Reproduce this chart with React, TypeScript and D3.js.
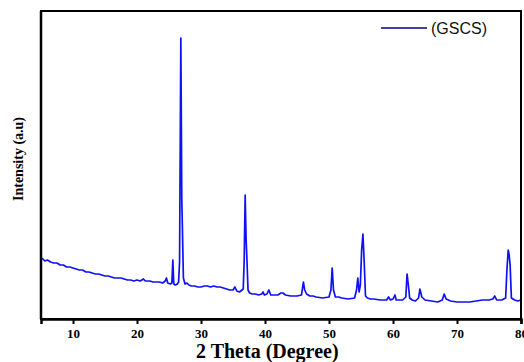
import React, { useEffect, useRef } from 'react';
import * as d3 from 'd3';

// XRD pattern: [2 theta, intensity (a.u.)]
const xrdPattern: [number, number][] = [
  [5.0, 610], [5.3, 600], [5.6, 580], [6.0, 590], [6.5, 570], [7.0, 560], [7.5, 560],
  [8.0, 540], [8.5, 540], [9.0, 520], [9.5, 520], [10.0, 510], [10.5, 500], [11.0, 490],
  [11.5, 490], [12.0, 470], [12.5, 470], [13.0, 460], [13.5, 450], [14.0, 450], [14.5, 440],
  [15.0, 430], [15.5, 430], [16.0, 420], [16.5, 410], [17.0, 410], [17.5, 410], [18.0, 400],
  [18.5, 390], [19.0, 390], [19.5, 380], [20.0, 390], [20.5, 380], [21.0, 400], [21.3, 380],
  [22.0, 380], [22.5, 370], [23.0, 370], [23.5, 370], [24.0, 360], [24.4, 380], [24.6, 410],
  [24.8, 360], [25.2, 350], [25.45, 360], [25.6, 590], [25.75, 350], [26.0, 340], [26.3, 350],
  [26.5, 370], [26.65, 570], [26.85, 2810], [27.0, 1190], [27.1, 890], [27.25, 410], [27.5, 350],
  [27.8, 360], [28.1, 340], [28.5, 330], [29.0, 330], [29.5, 320], [30.0, 320], [30.5, 330],
  [31.0, 330], [31.5, 320], [32.0, 330], [32.5, 320], [33.0, 320], [33.5, 310], [34.0, 300],
  [34.5, 290], [35.0, 290], [35.3, 320], [35.6, 280], [36.0, 270], [36.4, 290], [36.6, 300],
  [36.75, 590], [36.9, 1240], [37.05, 790], [37.15, 640], [37.35, 290], [37.6, 260], [38.0, 250],
  [38.5, 250], [39.0, 240], [39.5, 250], [39.7, 270], [39.9, 240], [40.3, 250], [40.6, 290],
  [40.9, 240], [41.5, 240], [42.0, 240], [42.5, 260], [42.8, 260], [43.2, 240], [44.0, 230],
  [45.0, 230], [45.7, 240], [46.0, 370], [46.2, 290], [46.5, 250], [47.0, 230], [47.5, 230],
  [48.0, 220], [49.0, 210], [50.0, 220], [50.3, 290], [50.5, 510], [50.7, 290], [51.0, 220],
  [51.5, 220], [52.0, 210], [53.0, 200], [54.0, 210], [54.3, 290], [54.5, 410], [54.7, 270],
  [54.9, 340], [55.1, 690], [55.3, 850], [55.5, 570], [55.7, 230], [56.0, 210], [56.5, 200],
  [57.0, 200], [58.0, 190], [59.0, 190], [59.3, 220], [59.6, 190], [60.0, 200], [60.3, 240],
  [60.5, 190], [61.0, 190], [61.5, 190], [62.0, 220], [62.2, 450], [62.4, 340], [62.6, 210],
  [63.0, 190], [63.5, 180], [64.0, 210], [64.2, 300], [64.5, 220], [65.0, 190], [66.0, 180],
  [67.0, 170], [67.7, 190], [68.0, 250], [68.3, 200], [69.0, 180], [70.0, 170], [71.0, 170],
  [72.0, 170], [73.0, 180], [74.0, 190], [75.0, 190], [75.6, 200], [75.9, 230], [76.2, 190],
  [77.0, 190], [77.6, 210], [77.8, 490], [78.0, 690], [78.15, 640], [78.3, 540], [78.5, 210],
  [79.0, 190], [79.5, 180], [80.0, 190],
];

const majorTicks = [10, 20, 30, 40, 50, 60, 70, 80];
const minorTicks = [5, 15, 25, 35, 45, 55, 65, 75];
const seriesName = '(GSCS)';
const xTitle = '2 Theta (Degree)';
const yTitle = 'Intensity (a.u)';

export default function App() {
  const ref = useRef<SVGSVGElement>(null);

  useEffect(() => {
    const svg = d3.select(ref.current);
    svg.selectAll('*').remove();

    const left = 41, right = 521, top = 11, bottom = 319;
    const x = d3.scaleLinear().domain([5, 80]).range([left, right]);
    const y = d3.scaleLinear().domain([0, 3080]).range([bottom, top]);

    // pattern
    const line = d3.line<[number, number]>()
      .x(d => x(d[0]))
      .y(d => y(d[1]));
    svg.append('path')
      .datum(xrdPattern)
      .attr('d', line)
      .attr('fill', 'none')
      .attr('stroke', '#1010f5')
      .attr('stroke-width', 1.7)
      .attr('stroke-linejoin', 'round');

    // frame
    svg.append('rect')
      .attr('x', left).attr('y', top)
      .attr('width', right - left).attr('height', bottom - top)
      .attr('fill', 'none')
      .attr('stroke', '#000')
      .attr('stroke-width', 2);

    // x axis
    const gx = svg.append('g').attr('transform', `translate(0,${bottom})`);
    gx.call(d3.axisBottom(x).tickValues(minorTicks).tickSize(3).tickFormat(() => ''));
    gx.call(d3.axisBottom(x).tickValues(majorTicks).tickSize(5).tickPadding(5).tickFormat(d3.format('d')));
    gx.select('.domain').attr('stroke-width', 2.5);
    gx.selectAll('.tick line').attr('stroke-width', 2);
    gx.selectAll('.tick text')
      .attr('font-family', '"Liberation Serif", "Times New Roman", serif')
      .attr('font-weight', 'bold')
      .attr('font-size', 13)
      .attr('fill', '#000');

    // left axis line
    svg.append('line')
      .attr('x1', left).attr('x2', left)
      .attr('y1', top).attr('y2', bottom)
      .attr('stroke', '#000').attr('stroke-width', 2.5);

    // titles
    svg.append('text')
      .attr('x', 196).attr('y', 358)
      .attr('font-family', '"Liberation Serif", "Times New Roman", serif')
      .attr('font-weight', 'bold')
      .attr('font-size', 20)
      .text(xTitle);

    svg.append('text')
      .attr('transform', 'translate(23,159) rotate(-90)')
      .attr('text-anchor', 'middle')
      .attr('font-family', '"Liberation Serif", "Times New Roman", serif')
      .attr('font-weight', 'bold')
      .attr('font-size', 14)
      .text(yTitle);

    // legend
    svg.append('line')
      .attr('x1', 381).attr('x2', 427)
      .attr('y1', 28).attr('y2', 28)
      .attr('stroke', '#000080').attr('stroke-width', 1.3);
    svg.append('text')
      .attr('x', 431).attr('y', 34)
      .attr('font-family', '"Liberation Sans", Arial, sans-serif')
      .attr('font-size', 16)
      .attr('fill', '#111')
      .text(seriesName);
  }, []);

  return (
    <svg
      ref={ref}
      width={524}
      height={362}
      style={{ position: 'absolute', left: 0, top: 0, background: '#fff' }}
    />
  );
}
